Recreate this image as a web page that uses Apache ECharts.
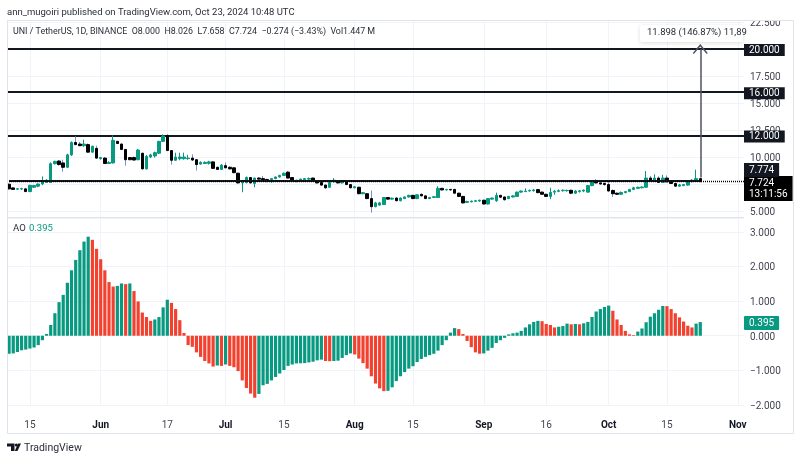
<!DOCTYPE html>
<html><head><meta charset="utf-8">
<style>html,body{margin:0;padding:0;background:#fff}#c{width:800px;height:460px}</style>
<script src="https://cdn.jsdelivr.net/npm/echarts@6/dist/echarts.min.js"></script>
</head><body><div id="c"></div>
<script>
const monthDays = [['2024-05',10,31],['2024-06',1,30],['2024-07',1,31],['2024-08',1,31],['2024-09',1,30],['2024-10',1,31],['2024-11',1,2]];
const tickDates = ['2024-05-15','2024-06-01','2024-06-17','2024-07-01','2024-07-15','2024-08-01','2024-08-15','2024-09-01','2024-09-16','2024-10-01','2024-10-15','2024-11-01'];
const tickLabels = ['15','Jun','17','Jul','15','Aug','15','Sep','16','Oct','15','Nov'];
const boldTicks = ['Jun','Jul','Aug','Sep','Oct','Nov'];
const priceOpen = [7.48,7.14,7.02,7.04,7.05,6.8,7.2,7.3,7.5,7.65,
7.65,9.38,9.63,9.45,9.05,10.2,11.35,11.2,11.05,11.15,
10.45,10.8,9.85,9.9,9.4,9.45,11.45,11.2,10.7,9.95,
9.95,9.75,10.35,8.9,10.0,10.1,10.35,11.45,12,10.6,
9.7,9.85,9.85,9.85,9.9,9.75,9.35,9.4,9.42,9.55,
9.05,8.85,9.2,9.05,9.0,8.5,7.6,7.65,8.1,7.55,
8.05,8.0,7.92,7.7,8.0,8.15,8.3,8.6,8.1,7.75,
7.8,7.9,7.95,8.05,7.8,7.65,7.4,7.2,7.7,7.8,
7.6,7.75,7.45,7.15,7.2,6.6,6.6,6.15,5.4,5.55,
5.6,6.25,6.1,6.2,5.95,6.15,6.3,6.45,6.15,6.55,
6.4,6.15,6.25,6.25,7.1,6.95,7.0,7.0,6.65,6.35,
5.8,5.85,5.9,5.92,6.0,5.65,6.1,5.95,6.45,6.3,
6.15,6.3,6.35,6.75,6.8,6.85,6.88,6.98,6.75,6.55,
6.35,6.75,6.82,6.88,6.88,6.92,6.65,6.8,6.85,6.75,
7.35,7.75,7.6,7.55,7.45,6.9,6.65,6.55,6.7,6.8,
7.0,7.1,7.15,7.2,8.05,7.75,8.05,7.65,8.05,7.75,
7.55,7.3,7.35,7.4,7.72,7.85,8.0];
const priceClose = [7.05,7.0,7.06,7.07,6.8,7.38,7.36,7.5,7.83,7.85,
9.38,9.6,9.3,9.05,10.2,11.35,11.15,11.05,11.2,10.45,
11.0,9.9,9.95,9.4,9.5,11.55,11.25,10.7,9.75,9.75,
9.72,10.65,8.9,10.05,10.2,10.4,11.45,11.95,10.6,9.7,
10.0,10.0,10.0,9.9,9.72,9.3,9.5,9.5,9.55,8.95,
8.85,9.25,9.0,8.9,8.55,7.6,7.75,8.1,7.6,8.05,
7.95,7.9,7.75,8.0,8.15,8.3,8.5,8.05,7.75,7.85,
7.95,8.0,8.02,7.8,7.6,7.4,7.15,7.65,7.85,7.6,
7.75,7.45,7.15,7.25,6.6,6.7,6.15,5.4,5.75,5.75,
6.25,6.1,6.18,5.95,6.2,6.3,6.45,6.15,6.5,6.4,
6.15,6.25,6.32,7.1,6.95,7.0,6.95,6.65,6.35,5.75,
5.88,5.92,5.95,6.0,5.65,6.15,6.2,6.45,6.28,6.05,
6.35,6.4,6.75,6.85,6.85,6.9,6.95,6.7,6.55,6.35,
6.72,6.82,6.88,6.92,6.9,6.65,6.85,6.87,6.93,7.35,
7.7,7.6,7.5,7.45,6.85,6.6,6.55,6.72,6.8,7.0,
7.15,7.2,7.22,8.05,7.75,8.05,7.65,8.05,7.7,7.55,
7.3,7.42,7.45,7.75,7.85,8.0,7.724];
const priceLow = [7.0,6.95,6.97,6.95,6.75,6.75,7.15,7.2,7.4,7.6,
7.6,9.3,9.2,8.65,9.0,10.1,11.1,11.0,10.95,10.4,
10.4,9.85,9.75,9.35,9.35,9.4,11.2,10.65,9.2,9.7,
9.68,9.7,8.85,8.85,9.9,9.95,10.3,11.4,10.55,9.3,
9.65,9.7,9.75,9.75,9.65,8.75,9.3,9.35,9.3,8.9,
8.8,8.8,8.95,8.85,8.5,7.55,6.74,7.55,7.55,7.2,
7.9,7.8,7.65,7.65,7.95,8.1,8.25,8.0,7.7,7.65,
7.75,7.85,7.9,7.75,7.55,7.35,7.05,7.15,7.65,7.55,
7.55,7.4,7.1,7.1,6.55,6.55,6.1,4.85,5.35,5.5,
5.55,6.05,6.05,5.9,5.9,6.1,6.25,6.1,6.1,6.35,
6.1,6.1,6.2,6.2,6.9,6.9,6.9,6.6,6.3,5.7,
5.75,5.8,5.85,5.85,5.6,5.6,6.05,5.85,6.2,5.95,
6.1,6.25,6.3,6.7,6.75,6.8,6.8,6.65,6.5,6.3,
6.1,6.5,6.75,6.8,6.8,6.55,6.6,6.7,6.75,6.7,
7.3,7.55,7.45,7.35,6.8,6.3,6.5,6.5,6.65,6.75,
6.95,7.05,7.1,7.15,7.7,7.7,7.6,7.6,7.65,7.5,
7.25,7.25,7.3,7.35,7.65,7.75,7.658];
const priceHigh = [7.55,7.18,7.12,7.15,7.1,7.42,7.42,7.55,8.2,7.95,
9.5,9.65,9.7,9.75,10.3,11.45,11.9,11.4,11.6,11.25,
11.05,11.05,10.0,10.0,9.6,12.0,11.5,11.25,10.75,10.0,
10.05,10.75,10.4,10.2,10.3,10.5,11.5,12.1,12.1,10.65,
10.4,10.4,10.4,10.2,10.25,9.8,9.6,9.6,9.65,9.6,
9.1,9.35,9.5,9.15,9.05,8.55,7.8,8.2,8.15,8.1,
8.15,8.25,8.0,8.05,8.2,8.35,8.55,8.7,8.15,7.9,
8.0,8.05,8.1,8.1,7.85,7.7,7.45,7.7,8.05,7.85,
7.85,7.8,7.5,7.3,7.25,6.75,6.65,6.9,5.85,5.85,
6.3,6.3,6.25,6.3,6.25,6.35,6.5,6.5,6.55,6.6,
6.45,6.3,6.35,7.3,7.15,7.05,7.05,7.05,6.7,6.4,
5.95,5.95,6.0,6.05,6.05,6.2,6.25,6.7,6.5,6.35,
6.4,6.45,6.8,6.9,7.1,7.0,7.05,7.05,6.8,6.6,
7.15,6.95,7.0,7.0,6.98,6.98,6.95,6.95,7.0,7.4,
7.75,7.95,7.7,7.65,7.75,7.0,6.7,6.8,6.85,7.05,
7.25,7.25,7.3,8.7,8.25,8.4,8.2,8.35,8.3,7.85,
7.6,7.5,7.5,7.85,7.95,8.83,8.026];
const aoValues = [-0.52,-0.51,-0.47,-0.42,-0.40,-0.37,-0.34,-0.27,-0.13,0.05,
0.31,0.65,0.97,1.18,1.53,1.89,2.19,2.47,2.72,2.86,
2.77,2.51,2.21,1.89,1.55,1.42,1.44,1.51,1.49,1.51,
1.29,0.99,0.67,0.54,0.43,0.47,0.54,0.82,1.04,0.95,
0.77,0.45,0.08,-0.27,-0.32,-0.48,-0.61,-0.73,-0.80,-0.89,
-0.86,-0.87,-0.83,-0.87,-0.91,-1.02,-1.29,-1.51,-1.67,-1.79,
-1.68,-1.43,-1.39,-1.29,-1.19,-1.09,-0.99,-0.87,-0.83,-0.80,
-0.795,-0.79,-0.77,-0.75,-0.71,-0.69,-0.73,-0.735,-0.73,-0.72,
-0.64,-0.56,-0.51,-0.54,-0.66,-0.79,-0.95,-1.17,-1.38,-1.52,
-1.60,-1.59,-1.49,-1.31,-1.17,-1.05,-0.95,-0.88,-0.76,-0.67,
-0.61,-0.56,-0.52,-0.43,-0.27,-0.13,0.09,0.22,0.19,0.05,
-0.15,-0.33,-0.48,-0.52,-0.51,-0.43,-0.35,-0.21,-0.13,-0.06,
0.04,0.07,0.09,0.14,0.24,0.33,0.40,0.43,0.42,0.34,
0.31,0.24,0.26,0.28,0.35,0.33,0.34,0.33,0.36,0.40,
0.54,0.70,0.77,0.83,0.87,0.72,0.47,0.31,0.14,0.04,
0.02,0.12,0.21,0.39,0.55,0.65,0.75,0.86,0.855,0.77,
0.65,0.53,0.41,0.29,0.24,0.35,0.395];
const levelValues = [20, 16, 12, 7.774];
const lastClose = 7.724, lastAo = 0.395, arrowFrom = 8.1, arrowTo = 20;

const FONT = 'Roboto, "Noto Sans", sans-serif';
const INK = '#131722', TXT = '#2a2e39', AXT = '#434651', UP = '#089981', DOWN = '#000000', AO_DOWN = '#f2412f', WICK_DOWN = '#7b8fd9', GRID = '#f0f3fa';

const categories = [];
monthDays.forEach(([m, a, b]) => { for (let d = a; d <= b; d++) categories.push(m + '-' + String(d).padStart(2, '0')); });
const isTick = (i) => tickDates.includes(categories[i]);

const wickData = priceOpen.map((o, i) => [o, priceClose[i], priceLow[i], priceHigh[i]]);
const bodyData = priceOpen.map((o, i) => [o, priceClose[i], Math.min(o, priceClose[i]), Math.max(o, priceClose[i])]);
const aoData = aoValues.map((v, i) => ({ value: v, itemStyle: { color: i === 0 || v > aoValues[i - 1] ? UP : AO_DOWN } }));
const lastCat = categories[priceOpen.length - 1];

const tagLabel = (txt, bg, extra) => Object.assign({
  show: true, position: 'end', distance: 0, formatter: txt, color: '#fff', backgroundColor: bg,
  fontFamily: FONT, fontSize: 10, padding: [1, 5, 0, 5], lineHeight: 11
}, extra || {});
const levelLines = levelValues.slice(0, 3).map(v => ({
  yAxis: v, lineStyle: { color: INK, width: 2, type: 'solid' },
  label: tagLabel(v.toFixed(3), INK, { offset: [0, 1] })
}));

const yFmt = (step) => (v) => {
  const r = v / step;
  if (Math.abs(r - Math.round(r)) > 1e-6) return '';
  return '{t|' + v.toFixed(3).replace('-', '\u2212') + '}';
};
const yRich = { t: { fontFamily: FONT, fontSize: 10, color: AXT, padding: [3, 0, 0, 0] } };
const txt = (x, y, text, o) => ({ type: 'text', x, y, z: 50, silent: true,
  style: Object.assign({ text, fill: TXT, font: '9.5px ' + FONT, textVerticalAlign: 'middle' }, o || {}) });

const chart = echarts.init(document.getElementById('c'), null, { renderer: 'canvas' });
chart.setOption({
  animation: false,
  backgroundColor: '#fff',
  grid: [
    { left: 7, right: 56, top: 20, height: 218 },
    { left: 7, right: 56, top: 218, height: 187 }
  ],
  xAxis: [0, 1].map(g => ({
    type: 'category', gridIndex: g, data: categories, boundaryGap: true,
    axisLine: { show: false }, axisTick: { show: false },
    splitLine: { show: true, alignWithLabel: true, interval: (i) => isTick(i), lineStyle: { color: GRID, width: 1 } },
    axisLabel: g === 0 ? { show: false } : {
      show: true, interval: (i) => isTick(i), margin: 15, hideOverlap: false,
      formatter: (v) => {
        const t = tickLabels[tickDates.indexOf(v)];
        return boldTicks.includes(t) ? '{b|' + t + '}' : '{n|' + t + '}';
      },
      rich: {
        b: { fontFamily: FONT, fontSize: 10, fontWeight: 700, color: INK },
        n: { fontFamily: FONT, fontSize: 10, color: AXT }
      }
    }
  })),
  yAxis: [
    { type: 'value', gridIndex: 0, position: 'right', min: 2.5, max: 22.69, interval: 2.5,
      axisLine: { show: false }, axisTick: { show: false },
      splitLine: { showMinLine: false, lineStyle: { color: GRID } },
      axisLabel: { margin: 6, fontFamily: FONT, fontSize: 10, color: AXT, showMinLabel: false, formatter: yFmt(2.5), rich: yRich } },
    { type: 'value', gridIndex: 1, position: 'right', min: -2, max: 3.4, interval: 1,
      axisLine: { show: false }, axisTick: { show: false },
      splitLine: { lineStyle: { color: GRID } },
      axisLabel: { margin: 6, fontFamily: FONT, fontSize: 10, color: AXT, formatter: yFmt(1), rich: yRich } }
  ],
  series: [
    { type: 'candlestick', name: 'wicks', xAxisIndex: 0, yAxisIndex: 0, barWidth: 1, data: wickData, z: 3,
      itemStyle: { color: UP, color0: WICK_DOWN, borderColor: UP, borderColor0: WICK_DOWN, borderWidth: 1 },
      markLine: { silent: true, symbol: 'none', animation: false, precision: 3, z: 2, data: levelLines } },
    { type: 'candlestick', name: 'bodies', xAxisIndex: 0, yAxisIndex: 0, barWidth: 3, data: bodyData, z: 4,
      itemStyle: { color: UP, color0: DOWN, borderColor: UP, borderColor0: DOWN, borderWidth: 1 },
      markLine: { silent: true, symbol: 'none', animation: false, precision: 3, z: 5, data: [
        [{ coord: [categories[0], levelValues[3]], lineStyle: { color: INK, width: 2, type: 'solid' }, label: { show: false } }, { coord: [lastCat, levelValues[3]] }],
        { yAxis: lastClose, lineStyle: { color: '#000', width: 1.4, type: [1, 1] },
          label: tagLabel(lastClose.toFixed(3) + '\n13:11:56', '#000', { padding: [2, 5, 1, 5], lineHeight: 11, offset: [0, 7] }) },
        { yAxis: levelValues[3], lineStyle: { color: 'rgba(0,0,0,0)', width: 1 },
          label: tagLabel(levelValues[3].toFixed(3), INK, { offset: [0, -11], padding: [2, 5, 1, 5] }) }
      ] } },
    { type: 'line', name: 'arrow', xAxisIndex: 0, yAxisIndex: 0, data: [], silent: true,
      markLine: { silent: true, animation: false, precision: 3, z: 6,
        symbol: ['none', 'path://M0 9 L7 0 L14 9 L13 10 L7 2.4 L1 10 Z'], symbolSize: [15, 10],
        label: { show: false },
        lineStyle: { color: '#50535e', width: 1.5, type: 'solid' },
        data: [[{ coord: [lastCat, arrowFrom] }, { coord: [lastCat, arrowTo] }]] } },
    { type: 'bar', name: 'AO', xAxisIndex: 1, yAxisIndex: 1, barWidth: 3.2, data: aoData,
      markLine: { silent: true, symbol: 'none', animation: false, precision: 3, data: [
        { yAxis: lastAo, lineStyle: { color: 'rgba(0,0,0,0)', width: 1 }, label: tagLabel(lastAo.toFixed(3), UP, { padding: [2, 5, 1, 5], borderRadius: 1, offset: [0, 1] }) }
      ] } }
  ],
  graphic: [
    { type: 'rect', z: 40, silent: true, shape: { x: 745, y: 8, width: 50, height: 12 }, style: { fill: '#fff' } },
    { type: 'rect', z: 41, silent: true, shape: { x: 7.5, y: 20.5, width: 786, height: 413 }, style: { fill: 'none', stroke: '#e0e3eb', lineWidth: 1 } },
    { type: 'line', z: 41, silent: true, shape: { x1: 7, y1: 217.5, x2: 744, y2: 217.5 }, style: { stroke: '#e0e3eb', lineWidth: 1 } },
    txt(7, 12.5, 'ann_mugoiri published on TradingView.com, Oct 23, 2024 10:48 UTC'),
    txt(13, 32, 'UNI / TetherUS, 1D, BINANCE  O8.000  H8.026  L7.658  C7.724  \u22120.274 (\u22123.43%)  Vol1.447\u2009M', { font: '8.9px ' + FONT }),
    txt(13, 229, 'AO'),
    txt(29, 229, '0.395', { fill: UP }),
    { type: 'rect', z: 45, silent: true, shape: { x: 640, y: 25, width: 103, height: 17, r: 2 },
      style: { fill: '#fff', shadowBlur: 4, shadowColor: 'rgba(0,0,0,0.14)', shadowOffsetY: 1 } },
    { type: 'text', x: 647, y: 33, silent: true, z: 46,
      style: { text: '11.898 (146.87%) 11,89', fill: TXT, font: '9.5px ' + FONT, textVerticalAlign: 'middle' } },
    { type: 'polygon', z: 50, silent: true, shape: { points: [[7,443.5],[14.5,443.5],[14.5,451],[11,451],[11,446.5],[7,446.5]] }, style: { fill: INK } },
    { type: 'circle', z: 50, silent: true, shape: { cx: 16.3, cy: 445, r: 1.5 }, style: { fill: INK } },
    { type: 'polygon', z: 50, silent: true, shape: { points: [[18,443.5],[21,443.5],[17.5,451],[14.8,451]] }, style: { fill: INK } },
    txt(24, 448, 'TradingView', { font: '10.5px ' + FONT })
  ]
});
</script></body></html>
